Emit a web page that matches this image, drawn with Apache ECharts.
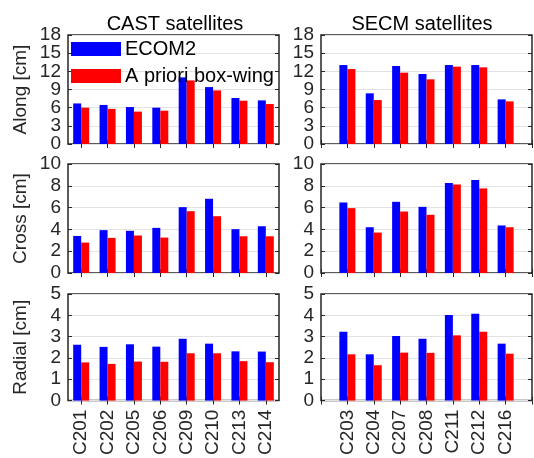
<!DOCTYPE html>
<html>
<head>
<meta charset="utf-8">
<script src="https://cdn.jsdelivr.net/npm/echarts@6/dist/echarts.min.js"></script>
<style>html,body{margin:0;padding:0;background:#fff}#c{width:534px;height:458px}</style>
</head>
<body>
<div id="c"></div>
<script>
// ---- data ----
const castSats = ['C201','C202','C205','C206','C209','C210','C213','C214'];
const secmSats = ['C203','C204','C207','C208','C211','C212','C216'];
const seriesNames = ['ECOM2','A priori box-wing'];
const rowNames = ['Along [cm]','Cross [cm]','Radial [cm]'];
const panelTitles = ['CAST satellites','SECM satellites'];

const castAlongEcom2    = [6.7, 6.45, 6.1, 6.0, 11.0, 9.4, 7.6, 7.2];
const castAlongBoxWing  = [6.0, 5.8, 5.35, 5.5, 10.5, 8.85, 7.15, 6.6];
const castCrossEcom2    = [3.4, 3.93, 3.87, 4.14, 6.04, 6.81, 4.02, 4.29];
const castCrossBoxWing  = [2.79, 3.22, 3.44, 3.25, 5.67, 5.21, 3.37, 3.37];
const castRadialEcom2   = [2.62, 2.52, 2.64, 2.53, 2.9, 2.67, 2.31, 2.3];
const castRadialBoxWing = [1.79, 1.72, 1.83, 1.82, 2.22, 2.22, 1.85, 1.8];

const secmAlongEcom2    = [13.04, 8.37, 12.88, 11.56, 13.04, 13.04, 7.37];
const secmAlongBoxWing  = [12.38, 7.26, 11.78, 10.68, 12.77, 12.66, 7.04];
const secmCrossEcom2    = [6.47, 4.2, 6.53, 6.07, 8.25, 8.53, 4.36];
const secmCrossBoxWing  = [5.95, 3.71, 5.64, 5.34, 8.13, 7.76, 4.2];
const secmRadialEcom2   = [3.23, 2.17, 3.03, 2.9, 4.02, 4.07, 2.67];
const secmRadialBoxWing = [2.17, 1.66, 2.25, 2.24, 3.06, 3.23, 2.2];

const yMax = [18, 10, 5];
const yStep = [3, 2, 1];

// ---- build ----
const TXT = '#262626';
const FONT = 'Liberation Sans, Arial, sans-serif';
const FS = 19;
const gridLeft = [68, 321];
const gridW = 211;
const gridTop = [35, 164, 294];
const gridH = [109, 109, 108];

const castData = [[castAlongEcom2, castAlongBoxWing],[castCrossEcom2, castCrossBoxWing],[castRadialEcom2, castRadialBoxWing]];
const secmData = [[secmAlongEcom2, secmAlongBoxWing],[secmCrossEcom2, secmCrossBoxWing],[secmRadialEcom2, secmRadialBoxWing]];

const grids = [], xAxes = [], yAxes = [], series = [];
for (let r = 0; r < 3; r++) {
  for (let c = 0; c < 2; c++) {
    const gi = grids.length;
    grids.push({left: gridLeft[c], top: gridTop[r], width: gridW, height: gridH[r],
      show: true, borderColor: TXT, borderWidth: 1.5, backgroundColor: 'transparent'});
    const cats = c === 0 ? castSats : ['', ...secmSats, ''];
    const bgap = c === 0;
    const baseX = {
      type: 'category', gridIndex: gi, data: cats, boundaryGap: bgap,
      axisLine: {show: false},
      axisTick: {show: true, inside: true, length: 4, alignWithLabel: true, interval: 0, lineStyle: {color: TXT, width: 1}},
      splitLine: {show: false}
    };
    const xi = xAxes.length;
    xAxes.push(Object.assign({}, baseX, {position: 'bottom',
      axisLabel: {show: r === 2, rotate: 90, interval: 0, margin: 9, color: TXT, fontSize: FS, fontFamily: FONT, hideOverlap: false}}));
    xAxes.push(Object.assign({}, baseX, {position: 'top', axisLabel: {show: false}}));
    const baseY = {type: 'value', gridIndex: gi, min: 0, max: yMax[r], interval: yStep[r],
      axisLine: {show: false},
      axisTick: {show: true, inside: true, length: 4, lineStyle: {color: TXT, width: 1}}};
    const dense = r === 0; // labels too tight: split even/odd labels over two axes
    const labelBase = {color: TXT, fontSize: FS, fontFamily: FONT, margin: 7,
      showMinLabel: true, showMaxLabel: true, hideOverlap: false};
    const yi = yAxes.length;
    yAxes.push(Object.assign({}, baseY, {position: 'left',
      axisLabel: Object.assign({}, labelBase, dense ? {formatter: v => (Math.round(v / yStep[r]) % 2 === 0 ? String(v) : '')} : {}),
      splitLine: {show: true, lineStyle: {color: '#e3e3e3', width: 1}},
      name: c === 0 ? rowNames[r] : '', nameLocation: 'middle', nameGap: 38,
      nameTextStyle: {color: TXT, fontSize: FS, fontFamily: FONT}}));
    yAxes.push(Object.assign({}, baseY, {position: 'right', axisLabel: {show: false}, splitLine: {show: false}}));
    if (dense) {
      yAxes.push(Object.assign({}, baseY, {position: 'left', axisTick: {show: false}, splitLine: {show: false},
        axisLabel: Object.assign({}, labelBase, {formatter: v => (Math.round(v / yStep[r]) % 2 === 1 ? String(v) : '')})}));
    }
    const d = c === 0 ? castData[r] : secmData[r];
    const colors = ['#0000ff', '#ff0000'];
    for (let s = 0; s < 2; s++) {
      const vals = c === 0 ? d[s] : [null, ...d[s], null];
      series.push({type: 'bar', name: seriesNames[s], xAxisIndex: xi, yAxisIndex: yi,
        data: vals, barWidth: 8, barGap: '0%', itemStyle: {color: colors[s]}, silent: true, animation: false});
    }
  }
}

const option = {
  animation: false,
  textStyle: {fontFamily: FONT},
  title: [
    {text: panelTitles[0], left: 170, top: 9, textAlign: 'center', textStyle: {color: '#000', fontSize: 20, fontWeight: 'normal', fontFamily: FONT}},
    {text: panelTitles[1], left: 417, top: 9, textAlign: 'center', textStyle: {color: '#000', fontSize: 20, fontWeight: 'normal', fontFamily: FONT}}
  ],
  legend: {data: seriesNames, orient: 'vertical', left: 71, top: 39, padding: 0,
    itemWidth: 50, itemHeight: 14, itemGap: 7, icon: 'rect',
    textStyle: {color: '#000', fontSize: 20, lineHeight: 14, fontFamily: FONT, padding: [0, 0, 0, -1]}},
  grid: grids, xAxis: xAxes, yAxis: yAxes, series: series
};
const chart = echarts.init(document.getElementById('c'), null, {renderer: 'canvas'});
chart.setOption(option);
</script>
</body>
</html>
